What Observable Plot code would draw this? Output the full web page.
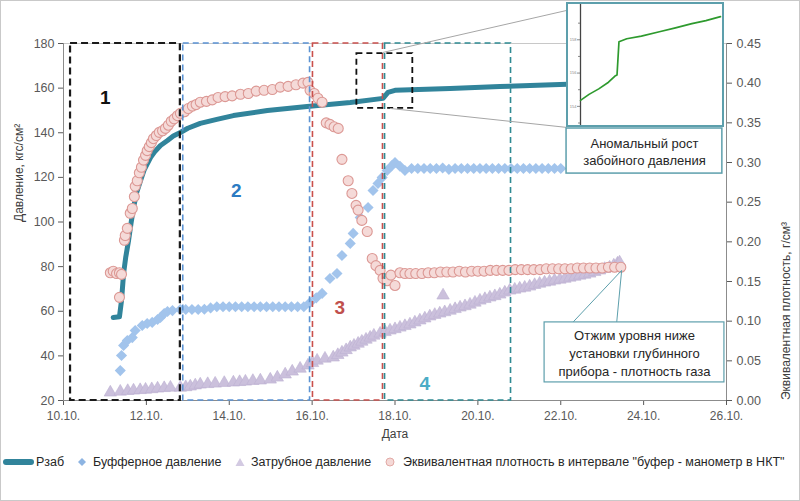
<!DOCTYPE html>
<html><head><meta charset="utf-8">
<script src="https://cdn.jsdelivr.net/npm/d3@7"></script>
<script src="https://cdn.jsdelivr.net/npm/@observablehq/plot@0.6"></script>
<style>
body{margin:0;background:#fff;font-family:"Liberation Sans",Arial,sans-serif;}
#wrap{position:relative;width:800px;height:501px;outline:1px solid #c9c9c9;outline-offset:-1px;overflow:hidden;background:#fff;}
#chart{position:absolute;left:0;top:0;}
#inset{position:absolute;left:566px;top:2px;width:158px;height:125px;border:2px solid #5d9fac;background:#fff;box-sizing:border-box;overflow:hidden;}
#legend{position:absolute;top:453px;left:0;height:18px;width:800px;font-size:12.5px;color:#262626;}
.li{position:absolute;top:0;display:flex;align-items:center;height:18px;white-space:nowrap;}
.li svg{display:block;}
</style></head><body>
<div id="wrap"><div id="chart"></div><div id="inset"></div><div id="legend"></div></div>
<script>
// ---------- data ----------
const dateTicks = [10, 12, 14, 16, 18, 20, 22, 24, 26];
const leftTicks = [20, 40, 60, 80, 100, 120, 140, 160, 180];
const densTicks = [0, 0.05, 0.10, 0.15, 0.20, 0.25, 0.30, 0.35, 0.40, 0.45];

// Рзаб
const rzabDay = [11.20, 11.35, 11.40, 11.45, 11.50, 11.57, 11.63, 11.69, 11.77, 11.86, 11.95, 12.10, 12.20, 12.34, 12.51, 12.65, 12.82, 13.00, 13.30, 13.70, 14.10, 14.92, 15.88, 16.92, 17.71, 17.83, 18.00, 19.33, 20.53, 21.98, 23.42];
const rzabVal = [57.2, 57.5, 64.8, 76.9, 84.0, 91.7, 99.5, 106.5, 113.5, 118.6, 123.5, 128.9, 131.5, 134.3, 136.5, 138.5, 140.1, 142.0, 144.2, 146.0, 147.7, 150.0, 151.8, 153.6, 155.4, 158.1, 159.0, 159.8, 160.7, 161.6, 162.5];

// Буферное давление
const bufDay = [11.37, 11.40, 11.45, 11.54, 11.66, 11.73, 11.90, 12.02, 12.14, 12.27, 12.34, 12.43, 12.51, 12.63, 12.82, 12.95, 13.10, 13.25, 13.40, 13.55, 13.70, 13.85, 14.00, 14.15, 14.30, 14.45, 14.60, 14.75, 14.90, 15.05, 15.20, 15.35, 15.50, 15.65, 15.80, 15.95, 16.10, 16.24, 16.43, 16.60, 16.72, 16.92, 16.99, 17.16, 17.35, 17.47, 17.59, 17.69, 17.81, 17.93, 18.00, 18.12, 18.24, 18.40, 18.55, 18.70, 18.85, 19.00, 19.15, 19.30, 19.45, 19.60, 19.75, 19.90, 20.05, 20.20, 20.35, 20.50, 20.65, 20.80, 20.95, 21.10, 21.25, 21.40, 21.55, 21.70, 21.85, 22.00];
const bufVal = [33.4, 40.2, 44.7, 46.9, 48.2, 51.4, 53.6, 54.5, 55.0, 56.3, 57.2, 59.0, 59.9, 60.3, 60.8, 60.8, 60.8, 60.8, 60.9, 61.5, 62.0, 62.0, 62.0, 62.0, 62.0, 62.0, 62.0, 62.0, 62.0, 62.0, 62.0, 62.0, 62.0, 62.0, 62.0, 63.9, 66.0, 68.0, 74.7, 76.9, 85.0, 90.4, 94.9, 102.0, 106.5, 114.1, 117.3, 120.0, 123.1, 125.3, 126.7, 125.0, 123.1, 124.0, 124.0, 124.0, 124.0, 124.0, 124.2, 123.6, 124.0, 124.0, 124.0, 124.0, 124.0, 124.0, 124.0, 124.0, 124.0, 124.0, 124.0, 124.0, 124.0, 124.0, 124.0, 124.0, 124.0, 124.0];

// Затрубное давление
const zatDay = [11.13, 11.37, 11.55, 11.69, 11.85, 11.98, 12.13, 12.27, 12.43, 12.58, 12.82, 12.95, 13.06, 13.18, 13.30, 13.48, 13.66, 13.88, 14.10, 14.25, 14.39, 14.57, 14.75, 14.99, 15.16, 15.35, 15.52, 15.71, 15.90, 16.01, 16.12, 16.31, 16.51, 16.62, 16.72, 16.82, 16.92, 17.01, 17.11, 17.20, 17.30, 17.40, 17.49, 17.64, 17.76, 17.88, 18.00, 18.12, 18.24, 18.36, 18.48, 18.60, 18.72, 18.84, 18.96, 19.08, 19.16, 19.20, 19.33, 19.45, 19.57, 19.69, 19.81, 19.93, 20.05, 20.17, 20.29, 20.41, 20.53, 20.65, 20.77, 20.89, 21.01, 21.13, 21.25, 21.37, 21.49, 21.61, 21.73, 21.85, 21.98, 22.10, 22.22, 22.34, 22.46, 22.58, 22.70, 22.82, 22.94, 23.06, 23.18, 23.28, 23.37, 23.42];
const zatVal = [23.6, 24.0, 24.3, 24.5, 24.7, 24.9, 25.1, 25.4, 25.6, 25.8, 25.8, 26.0, 26.3, 26.8, 27.2, 27.4, 27.6, 27.9, 28.1, 28.3, 28.5, 28.8, 29.0, 29.4, 30.3, 31.7, 33.0, 34.3, 35.7, 36.8, 37.9, 38.8, 39.3, 40.4, 41.5, 42.6, 43.8, 44.6, 45.5, 46.4, 47.3, 48.2, 49.1, 50.0, 50.7, 51.4, 52.0, 52.7, 53.4, 54.1, 55.0, 55.9, 56.8, 57.7, 58.4, 59.0, 67.1, 59.6, 60.3, 61.0, 61.7, 62.3, 63.0, 63.9, 64.8, 65.5, 66.2, 66.8, 67.5, 68.4, 69.3, 69.7, 70.2, 70.6, 71.1, 71.8, 72.4, 72.9, 73.3, 73.8, 74.2, 74.6, 75.1, 75.5, 76.0, 76.4, 76.9, 77.6, 78.3, 79.0, 79.6, 80.5, 81.4, 81.9];

// Эквивалентная плотность (правая ось, г/см3)
const densDay = [11.13, 11.20, 11.28, 11.35, 11.40, 11.35, 11.47, 11.49, 11.54, 11.61, 11.66, 11.71, 11.73, 11.78, 11.83, 11.88, 11.93, 11.98, 12.02, 12.07, 12.12, 12.17, 12.24, 12.31, 12.39, 12.46, 12.53, 12.60, 12.67, 12.75, 12.82, 12.92, 13.01, 13.11, 13.20, 13.30, 13.45, 13.59, 13.73, 13.90, 14.07, 14.27, 14.46, 14.65, 14.84, 15.04, 15.23, 15.42, 15.61, 15.78, 15.90, 15.95, 16.05, 16.14, 16.24, 16.34, 16.43, 16.53, 16.63, 16.72, 16.87, 16.96, 17.06, 17.11, 17.20, 17.33, 17.45, 17.54, 17.64, 17.71, 17.81, 17.90, 18.00, 18.12, 18.24, 18.36, 18.50, 18.65, 18.80, 18.95, 19.10, 19.25, 19.40, 19.55, 19.70, 19.85, 20.00, 20.15, 20.30, 20.45, 20.60, 20.75, 20.90, 21.05, 21.20, 21.35, 21.50, 21.65, 21.80, 21.95, 22.10, 22.25, 22.40, 22.55, 22.70, 22.85, 23.00, 23.15, 23.30, 23.45];
const densVal = [0.161, 0.163, 0.160, 0.161, 0.159, 0.130, 0.202, 0.208, 0.217, 0.236, 0.242, 0.257, 0.270, 0.277, 0.287, 0.294, 0.303, 0.309, 0.315, 0.320, 0.325, 0.330, 0.334, 0.338, 0.340, 0.343, 0.347, 0.352, 0.355, 0.359, 0.362, 0.364, 0.368, 0.371, 0.373, 0.376, 0.377, 0.379, 0.382, 0.383, 0.384, 0.386, 0.387, 0.390, 0.391, 0.392, 0.395, 0.396, 0.398, 0.400, 0.401, 0.391, 0.387, 0.381, 0.376, 0.350, 0.348, 0.345, 0.343, 0.304, 0.277, 0.261, 0.246, 0.240, 0.227, 0.213, 0.179, 0.170, 0.164, 0.154, 0.151, 0.158, 0.145, 0.161, 0.160, 0.160, 0.160, 0.160, 0.161, 0.161, 0.162, 0.162, 0.162, 0.163, 0.162, 0.163, 0.163, 0.163, 0.164, 0.164, 0.164, 0.164, 0.165, 0.165, 0.165, 0.165, 0.165, 0.166, 0.166, 0.166, 0.166, 0.166, 0.167, 0.167, 0.167, 0.167, 0.167, 0.168, 0.168, 0.168];

// Зоны 1-4
const zoneName  = ["1", "2", "3", "4"];
const zoneStart = [10.17, 12.89, 16.02, 17.76];
const zoneEnd   = [12.82, 15.95, 17.71, 20.80];
const zoneColor = ["#1a1a1a", "#5b93d3", "#c9504d", "#2f8a93"];
const zoneLabelDay = [11.01, 14.17, 16.67, 18.72];
const zoneLabelVal = [155.8, 114.1, 61.7, 27.6];
const zoneLabelColor = ["#111111", "#2b7bc3", "#c0504d", "#4bacc6"];

// выделенный участок и выноска-врезка
const focusDay = [17.08, 18.43];
const focusVal = [150.9, 175.5];
const connFromDay = [17.71, 17.88];
const connFromVal = [176.0, 150.9];
const connToDay = [22.14, 22.14];
const connToVal = [194.8, 142.4];

// врезка: Рзаб в увеличенном масштабе
const insetDay = [17.45, 17.52, 17.60, 17.68, 17.733, 17.75, 17.766, 17.83, 17.95, 18.098, 18.23, 18.365, 18.48, 18.60];
const insetVal = [154.36, 154.72, 155.05, 155.45, 155.82, 155.88, 157.88, 158.06, 158.22, 158.48, 158.72, 158.97, 159.15, 159.39];
const insetTicks = [154, 156, 158];

// подписи-выноски
const ann1Text = "Аномальный рост\nзабойного давления";
const ann1Box = {x1: 22.14, x2: 25.90, y1: 121.7, y2: 141.9};
const ann2Text = "Отжим уровня ниже\nустановки глубинного\nприбора - плотность газа";
const ann2Box = {x1: 21.61, x2: 25.95, y1: 28.1, y2: 55.0};
const ann2PointerDay = [22.29, 23.35];
const ann2PointerVal = [55.0, 55.0];
const ann2TipDay = 23.47, ann2TipDens = 0.164;

const legendLabels = ["Рзаб", "Буфферное давление", "Затрубное давление", "Эквивалентная плотность в интервале \"буфер - манометр в НКТ\""];

// ---------- build ----------
const toLeft = d => 20 + d * 160 / 0.45;
const rows = (xs, ys, f = v => v) => xs.map((d, i) => ({day: d, v: f(ys[i])}));
const rzab = rows(rzabDay, rzabVal);
const buf = rows(bufDay, bufVal);
const zat = rows(zatDay, zatVal);
const dens = rows(densDay, densVal, toLeft);

const TEAL = "#31849b";
const FONT = "Liberation Sans, Arial, sans-serif";

const zoneMarks = zoneName.map((n, i) => Plot.rect([0], {
  x1: zoneStart[i], x2: zoneEnd[i], y1: 20, y2: 180,
  fill: "none", stroke: zoneColor[i], strokeWidth: i === 0 ? 2.2 : 1.6,
  strokeDasharray: i === 0 ? "7,4" : "6,4"
}));
const zoneLabels = zoneName.map((n, i) => Plot.text([n], {
  x: zoneLabelDay[i], y: zoneLabelVal[i], fill: zoneLabelColor[i],
  fontSize: 19, fontWeight: "bold"
}));

const chart = Plot.plot({
  width: 800, height: 445,
  marginLeft: 63, marginRight: 74, marginTop: 43, marginBottom: 45,
  style: {fontFamily: FONT, fontSize: "12px", color: "#404040", background: "transparent", overflow: "visible"},
  x: {domain: [10, 26]},
  y: {domain: [20, 180]},
  marks: [
    Plot.ruleY([180], {stroke: "#c8c8c8"}),
    Plot.axisY(leftTicks, {anchor: "left", tickSize: 5, tickPadding: 4, label: null, color: "#595959", fontSize: 12.5}),
    Plot.axisY(densTicks.map(toLeft), {anchor: "right", tickSize: 5, tickPadding: 5, label: null, color: "#595959", fontSize: 12.5,
      tickFormat: v => ((v - 20) * 0.45 / 160).toFixed(2)}),
    Plot.axisX(dateTicks, {anchor: "bottom", tickSize: 5, tickPadding: 6, label: null, color: "#595959", fontSize: 12,
      tickFormat: d => `${d}.10.`}),
    Plot.ruleX([10], {stroke: "#8c8c8c"}),
    Plot.ruleX([26], {stroke: "#8c8c8c"}),
    Plot.ruleY([20], {stroke: "#8c8c8c"}),
    Plot.text(["Дата"], {frameAnchor: "bottom", dy: 37, fontSize: 12, fill: "#404040"}),
    Plot.text(["Давление, кгс/см²"], {frameAnchor: "left", dx: -44, rotate: -90, fontSize: 12, fill: "#404040"}),
    Plot.text(["Эквивалентная плотность, г/см³"], {frameAnchor: "right", dx: 60, rotate: -90, fontSize: 12, fill: "#404040"}),
    // series
    Plot.line(rzab, {x: "day", y: "v", stroke: TEAL, strokeWidth: 5, strokeLinecap: "round", strokeLinejoin: "round"}),
    Plot.dot(buf, {x: "day", y: "v", symbol: "diamond2", r: 5, fill: "#a2c4ec", stroke: "none"}),
    Plot.dot(zat, {x: "day", y: "v", symbol: "triangle", r: 4.6, fill: "#cbc0dc", stroke: "#bcb0d2", strokeWidth: 0.6}),
    Plot.dot(dens, {x: "day", y: "v", r: 5, fill: "#f5dad8", stroke: "#dc9894", strokeWidth: 1.1}),
    // zones
    ...zoneMarks,
    ...zoneLabels,
    // focus box + connectors
    Plot.rect([0], {x1: focusDay[0], x2: focusDay[1], y1: focusVal[0], y2: focusVal[1], fill: "none", stroke: "#111", strokeWidth: 1.8, strokeDasharray: "6,4"}),
    Plot.link(connFromDay.map((d, i) => i), {x1: i => connFromDay[i], y1: i => connFromVal[i], x2: i => connToDay[i], y2: i => connToVal[i], stroke: "#a6a6a6", strokeWidth: 1}),
    // annotation 1
    Plot.rect([0], {...ann1Box, fill: "white", stroke: "#5d9fac", strokeWidth: 1.5}),
    Plot.text([ann1Text], {x: (ann1Box.x1 + ann1Box.x2) / 2, y: (ann1Box.y1 + ann1Box.y2) / 2, fontSize: 13, fill: "#262626", lineHeight: 1.35}),
    // annotation 2 with pointer
    Plot.link([0, 1], {x1: i => ann2PointerDay[i], y1: i => ann2PointerVal[i], x2: ann2TipDay, y2: toLeft(ann2TipDens), stroke: "#5d9fac", strokeWidth: 1}),
    Plot.rect([0], {...ann2Box, fill: "white", stroke: "#5d9fac", strokeWidth: 1.2}),
    Plot.text([ann2Text], {x: (ann2Box.x1 + ann2Box.x2) / 2, y: (ann2Box.y1 + ann2Box.y2) / 2, fontSize: 13, fill: "#262626", lineHeight: 1.35})
  ]
});
document.getElementById("chart").append(chart);

// inset
const insetRows = rows(insetDay, insetVal);
const inset = Plot.plot({
  width: 154, height: 121, marginLeft: 12, marginRight: 2, marginTop: 0, marginBottom: 0,
  style: {fontFamily: FONT, background: "white", overflow: "visible"},
  x: {domain: [17.45, 18.6], axis: null},
  y: {domain: [152.85, 160.12]},
  marks: [
    Plot.axisY([153, 155, 157, 159], {tickSize: 2, tickFormat: () => "", label: null, color: "#8a8a8a"}),
    Plot.axisY(insetTicks, {tickSize: 3, tickPadding: 1, fontSize: 4, label: null, color: "#8a8a8a"}),
    Plot.ruleX([17.45], {stroke: "#444", strokeWidth: 1.3}),
    Plot.line(insetRows, {x: "day", y: "v", stroke: "#2e9a2e", strokeWidth: 1.7})
  ]
});
document.getElementById("inset").append(inset);

// legend
const sw = {
  line: `<svg width="31" height="10"><line x1="3" y1="5" x2="28" y2="5" stroke="${TEAL}" stroke-width="6" stroke-linecap="round"/></svg>`,
  diamond: `<svg width="12" height="12"><path d="M6,2 L10,6 L6,10 L2,6Z" fill="#8db4e2"/></svg>`,
  triangle: `<svg width="12" height="12"><path d="M6,2 L10.5,10 L1.5,10Z" fill="#d3cae2"/></svg>`,
  circle: `<svg width="12" height="12"><circle cx="6" cy="6" r="4" fill="#f5d9d7" stroke="#e2aaa6"/></svg>`
};
const legendItems = [
  {left: 3, sw: sw.line, gap: 2, text: legendLabels[0]},
  {left: 76, sw: sw.diamond, gap: 5, text: legendLabels[1]},
  {left: 234, sw: sw.triangle, gap: 5, text: legendLabels[2]},
  {left: 384, sw: sw.circle, gap: 7, text: legendLabels[3]}
];
const lg = document.getElementById("legend");
legendItems.forEach(it => {
  const d = document.createElement("div");
  d.className = "li";
  d.style.left = it.left + "px";
  d.innerHTML = it.sw + `<span style="margin-left:${it.gap}px"></span>`;
  d.querySelector("span").textContent = it.text;
  lg.append(d);
});
</script>
</body></html>
